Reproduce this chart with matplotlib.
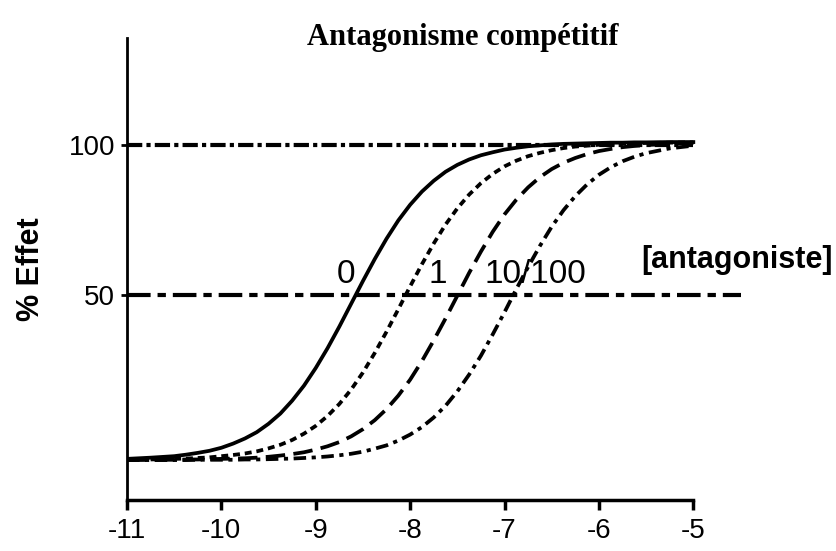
import matplotlib
matplotlib.use("Agg")
import matplotlib.pyplot as plt

# log concentration (M)
log_conc = [-11, -10.75, -10.5, -10.375, -10.25, -10.125, -10, -9.875, -9.75, -9.625,
            -9.5, -9.375, -9.25, -9.125, -9, -8.875, -8.75, -8.625, -8.5, -8.375,
            -8.25, -8.125, -8, -7.875, -7.75, -7.625, -7.5, -7.375, -7.25, -7.125,
            -7, -6.875, -6.75, -6.625, -6.5, -6.375, -6.25, -6.125, -6, -5.875,
            -5.75, -5.625, -5.5, -5.25, -5]

# % effet for each antagonist concentration
effet_0 = [-4.6, -4.2, -3.7, -3.2, -2.6, -1.9, -0.9, 0.5, 2.2, 4.3,
           7.1, 10.5, 14.8, 19.8, 25.7, 32.3, 39.5, 47.1, 54.7, 62.0,
           68.8, 74.9, 80.1, 84.5, 88.1, 91.1, 93.4, 95.2, 96.6, 97.6,
           98.5, 99.1, 99.6, 99.9, 100.2, 100.4, 100.5, 100.6, 100.7, 100.8,
           100.8, 100.9, 100.9, 101.0, 101.0]
effet_1 = [-4.9, -4.8, -4.6, -4.5, -4.3, -4.1, -3.7, -3.3, -2.8, -2.1,
           -1.1, 0.1, 1.7, 3.8, 6.4, 9.7, 13.7, 18.5, 24.2, 30.7,
           37.8, 45.3, 52.9, 60.3, 67.2, 73.5, 78.9, 83.5, 87.3, 90.4,
           92.9, 94.8, 96.3, 97.4, 98.3, 99.0, 99.5, 99.8, 100.1, 100.3,
           100.5, 100.6, 100.7, 100.8, 100.9]
effet_10 = [-5.0, -4.9, -4.9, -4.8, -4.8, -4.7, -4.6, -4.5, -4.4, -4.2,
            -3.9, -3.5, -3.0, -2.4, -1.5, -0.4, 1.0, 2.9, 5.3, 8.3,
            12.0, 16.5, 21.8, 28.0, 34.9, 42.2, 49.8, 57.4, 64.5, 71.1,
            76.9, 81.8, 85.9, 89.3, 92.0, 94.1, 95.7, 97.0, 98.0, 98.7,
            99.3, 99.7, 100.0, 100.4, 100.7]
effet_100 = [-5.0, -5.0, -5.0, -5.0, -4.9, -4.9, -4.9, -4.9, -4.8, -4.8,
             -4.7, -4.6, -4.5, -4.3, -4.1, -3.8, -3.4, -2.9, -2.2, -1.2,
             -0.1, 1.5, 3.5, 6.0, 9.2, 13.1, 17.9, 23.5, 29.8, 36.9,
             44.3, 52.0, 59.4, 66.4, 72.8, 78.3, 83.0, 86.9, 90.1, 92.6,
             94.6, 96.1, 97.3, 98.9, 99.8]

xticks = [-11, -10, -9, -8, -7, -6, -5]
yticks = [50, 100]

sans = "Liberation Sans"
plt.rcParams["lines.scale_dashes"] = False
plt.rcParams["axes.unicode_minus"] = False

fig = plt.figure(figsize=(8.37, 5.51), dpi=100)
ax = fig.add_axes([0.1517, 0.0926, 0.7443, 0.8385])

# reference lines
ax.plot([-11, -5], [100, 100], color="black", lw=3, dashes=(11, 3, 3, 3))
ax.plot([-11, -4.5], [50, 50], color="black", lw=3, dashes=(17, 5, 6, 5))

ax.plot(log_conc, effet_0, color="black", lw=2.7)
ax.plot(log_conc, effet_1, color="black", lw=2.7, dashes=(5, 3.5))
ax.plot(log_conc, effet_10, color="black", lw=2.7, dashes=(14, 6))
ax.plot(log_conc, effet_100, color="black", lw=2.7, dashes=(9, 4, 3, 4))

ax.text(-8.68, 57, "0", fontsize=24, family=sans, ha="center", va="center")
ax.text(-7.71, 57, "1", fontsize=24, family=sans, ha="center", va="center")
ax.text(-6.67, 57, "10/100", fontsize=24, family=sans, ha="center", va="center")
ax.text(-4.54, 61.7, "[antagoniste]", fontsize=22, family=sans, fontweight="bold",
        ha="center", va="center")

ax.set_xlim(-11, -4.4)
ax.set_ylim(-18.3, 135.7)
ax.set_xticks(xticks)
ax.set_yticks(yticks)
ax.spines["top"].set_visible(False)
ax.spines["right"].set_visible(False)
ax.spines["bottom"].set_bounds(-11, -5)
ax.spines["left"].set_linewidth(2)
ax.spines["bottom"].set_linewidth(2.5)
ax.tick_params(axis="x", direction="out", length=7, width=2.5, pad=6)
ax.tick_params(axis="y", direction="inout", length=9, width=2, pad=4)
for lab in ax.get_xticklabels() + ax.get_yticklabels():
    lab.set_family(sans)
    lab.set_fontsize(20)

ax.set_ylabel("% Effet", fontsize=22, family=sans, fontweight="bold", labelpad=16)
fig.text(0.553, 0.932, "Antagonisme compétitif", fontsize=22, family="Liberation Serif",
         fontweight="bold", ha="center", va="center")

fig.savefig("out.png", dpi=100)
